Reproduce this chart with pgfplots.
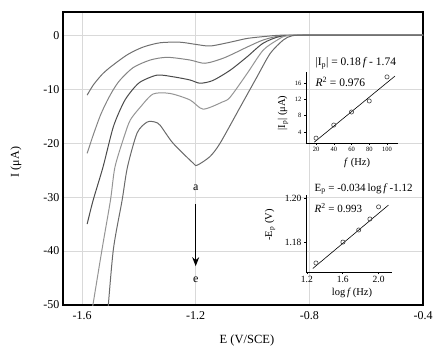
\documentclass[border=0pt]{standalone}
\usepackage{fontspec}
\setmainfont{Liberation Serif}
\usepackage{pgfplots}
\pgfplotsset{compat=1.18}
\usetikzlibrary{arrows.meta}
\definecolor{ca}{HTML}{707070}
\definecolor{cb}{HTML}{858585}
\definecolor{cc}{HTML}{4A4A4A}
\definecolor{cd}{HTML}{959595}
\definecolor{ce}{HTML}{6A6A6A}
\begin{document}
\begin{tikzpicture}
\path[use as bounding box] (-63pt,-49pt) rectangle (375pt,305pt);
\begin{axis}[at={(0pt,0pt)}, anchor=south west, scale only axis,
  width=360pt, height=293pt,
  xmin=-1.667, xmax=-0.4, ymin=-50, ymax=4.3,
  xtick={-1.6,-1.2,-0.8,-0.4}, xticklabels={-1.6,-1.2,-0.8,-0.4},
  ytick={-50,-40,-30,-20,-10,0}, yticklabels={-50,-40,-30,-20,-10,0},
  grid=major, grid style={gray!30, line width=0.8pt},
  major tick length=0pt,
  axis line style={line width=1.4pt},
  tick label style={font=\fontsize{12}{14}\selectfont},
  xticklabel style={yshift=-3pt},
  every axis plot/.append style={smooth, tension=0.45, line width=1pt},
  clip=true]
\addplot[ca] coordinates {(-1.582,-11.1)(-1.56,-9.2)(-1.53,-7.3)(-1.50,-5.9)(-1.44,-3.6)(-1.385,-2.2)(-1.325,-1.4)(-1.255,-1.3)(-1.20,-1.7)(-1.149,-2.0)(-1.079,-1.3)(-1.019,-0.6)(-0.95,-0.2)(-0.9,0)(-0.8,0)(-0.4,0)};
\addplot[cb] coordinates {(-1.582,-21.9)(-1.56,-18.4)(-1.535,-14.8)(-1.512,-12.2)(-1.49,-10.1)(-1.466,-8.3)(-1.42,-6.0)(-1.36,-4.6)(-1.30,-4.1)(-1.22,-4.6)(-1.167,-5.2)(-1.10,-4.2)(-1.019,-2.2)(-0.963,-0.9)(-0.9,-0.1)(-0.8,0)(-0.4,0)};
\addplot[cc] coordinates {(-1.582,-35)(-1.561,-30.6)(-1.526,-24.4)(-1.49,-17)(-1.455,-12.6)(-1.43,-10.6)(-1.396,-8.7)(-1.336,-7.4)(-1.28,-7.7)(-1.22,-8.3)(-1.185,-8.9)(-1.14,-8.4)(-1.079,-6.5)(-1.019,-4.0)(-0.963,-1.5)(-0.9,-0.2)(-0.8,0)(-0.4,0)};
\addplot[cd] coordinates {(-1.571,-53)(-1.53,-39.8)(-1.50,-30.6)(-1.484,-24.4)(-1.45,-18.5)(-1.43,-15.7)(-1.396,-13.4)(-1.35,-10.9)(-1.29,-10.8)(-1.22,-12)(-1.174,-13.7)(-1.107,-12.4)(-1.079,-11.5)(-1.019,-7.1)(-0.963,-2.8)(-0.913,-0.9)(-0.88,-0.1)(-0.8,0)(-0.4,0)};
\addplot[ce] coordinates {(-1.512,-53)(-1.49,-39.8)(-1.459,-30.6)(-1.44,-24.4)(-1.406,-18.1)(-1.371,-16.1)(-1.343,-16.1)(-1.325,-16.7)(-1.28,-20)(-1.209,-23.7)(-1.195,-24.1)(-1.15,-22.5)(-1.114,-20)(-1.04,-13)(-0.984,-7.7)(-0.938,-3.4)(-0.892,-0.9)(-0.86,-0.1)(-0.8,0)(-0.4,0)};
\node[font=\fontsize{12}{14}\selectfont] at (axis cs:-1.2,-28.3) {a};
\draw[-{Stealth[length=9pt,width=7pt]}, line width=1pt] (axis cs:-1.2,-31.3) -- (axis cs:-1.2,-42.8);
\node[font=\fontsize{12}{14}\selectfont] at (axis cs:-1.2,-45.3) {e};
\end{axis}
\node[rotate=90, font=\fontsize{12}{14}\selectfont] at (-47pt,143pt) {I (μA)};
\node[font=\fontsize{12.5}{14}\selectfont] at (184pt,-35pt) {E (V/SCE)};
% inset 1
\begin{axis}[at={(243pt,162pt)}, anchor=south west, scale only axis,
  width=92pt, height=71pt, xmin=8.7, xmax=112.4, ymin=1.3, ymax=18.7,
  axis x line=bottom, axis y line=left, axis line style={-, line width=0.6pt},
  xtick={20,40,60,80,100}, ytick={4,8,12,16},
  tick label style={font=\fontsize{6.5}{7}\selectfont},
  /pgf/number format/assume math mode=true,
  tick align=outside, major tick length=2pt, tick style={black, line width=0.5pt},
  xticklabel style={yshift=1pt}, yticklabel style={xshift=1pt},
  clip=false]
\addplot[black, line width=0.6pt] coordinates {(18,1.5)(109,17.7)};
\addplot[only marks, mark=o, mark size=2.1pt, mark options={draw=black!75, line width=0.6pt}] coordinates {(20,2.5)(40,5.7)(60,8.9)(80,11.6)(100,17.5)};
\end{axis}
\node[anchor=west, font=\fontsize{11.5}{12}\selectfont] at (249pt,242pt) {|I\textsubscript{p}| = 0.18\,\textit{f}\,- 1.74};
\node[anchor=west, font=\fontsize{11.5}{12}\selectfont] at (249pt,223pt) {\textit{R}\textsuperscript{2} = 0.976};
\node[rotate=90, font=\fontsize{10.5}{12}\selectfont] at (220pt,192pt) {|I\textsubscript{p}| (μA)};
\node[font=\fontsize{10.5}{12}\selectfont] at (294pt,142pt) {\textit{f} (Hz)};
% inset 2
\begin{axis}[at={(243pt,33pt)}, anchor=south west, scale only axis,
  width=86pt, height=77pt, xmin=1.19, xmax=2.15, ymin=1.1664, ymax=1.2014,
  axis x line=bottom, axis y line=left, axis line style={-, line width=0.6pt},
  xtick={1.2,1.6,2.0}, xticklabels={1.2,1.6,2.0},
  ytick={1.18,1.20}, yticklabels={1.18,1.20},
  tick label style={font=\fontsize{9.5}{10}\selectfont},
  tick align=outside, major tick length=2pt, tick style={black, line width=0.5pt},
  xticklabel style={yshift=1pt}, yticklabel style={xshift=1pt},
  clip=false]
\addplot[black, line width=0.6pt] coordinates {(1.266,1.168)(2.11,1.1968)};
\addplot[only marks, mark=o, mark size=2.1pt, mark options={draw=black!75, line width=0.6pt}] coordinates {(1.301,1.1705)(1.602,1.180)(1.778,1.1855)(1.903,1.1905)(2.0,1.196)};
\end{axis}
\node[anchor=west, font=\fontsize{11}{12}\selectfont] at (248pt,116pt) {E\textsubscript{p} = -0.034\,log\,\textit{f}\,-1.12};
\node[anchor=west, font=\fontsize{11}{12}\selectfont] at (248pt,97pt) {\textit{R}\textsuperscript{2} = 0.993};
\node[rotate=90, font=\fontsize{10.5}{12}\selectfont] at (207pt,80pt) {-E\textsubscript{p} (V)};
\node[font=\fontsize{10.5}{12}\selectfont] at (289pt,12pt) {log\,\textit{f}\,(Hz)};
\end{tikzpicture}
\end{document}
